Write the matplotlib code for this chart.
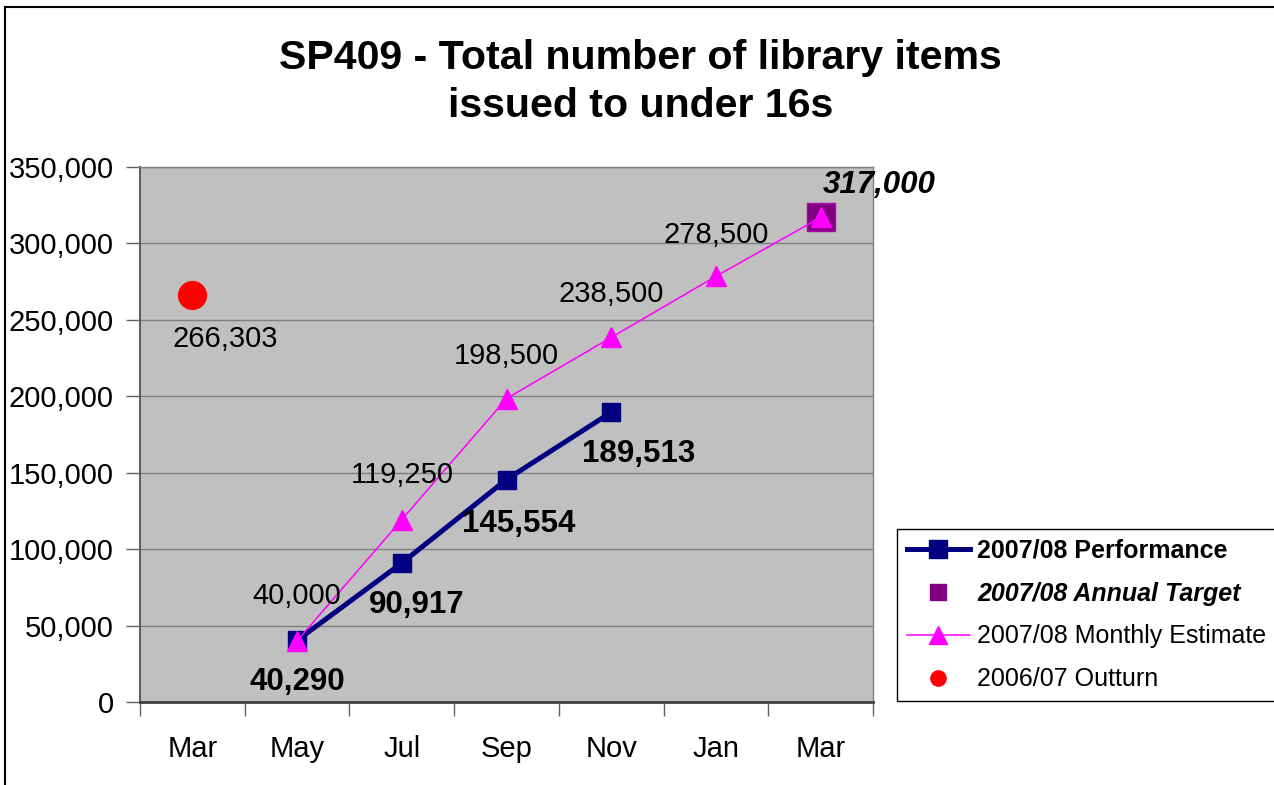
import numpy as np
from matplotlib import pyplot as plt
from matplotlib import rcParams
from matplotlib.lines import Line2D
from matplotlib.ticker import FuncFormatter

rcParams.update({"font.family": ["Liberation Sans", "DejaVu Sans"]})

months = ["Mar", "May", "Jul", "Sep", "Nov", "Jan", "Mar"]

perf_idx = [1, 2, 3, 4]
perf_vals = [40290, 90917, 145554, 189513]

est_idx = [1, 2, 3, 4, 5, 6]
est_vals = [40000, 119250, 198500, 238500, 278500, 317000]

target_idx = [6]
target_vals = [317000]

outturn_idx = [0]
outturn_vals = [266303]

# label offsets in points (hand placed, like the original)
perf_off = [(0, -30), (11, -30), (9, -32), (20, -30)]
est_off = [(0, 32), (0, 32), (0, 31), (0, 31), (0, 30)]

navy = "#000080"
magenta = "#FF00FF"
purple = "#800080"
grey_bg = "#C0C0C0"

labelSize = 21
boldSize = 22.5
fmt = lambda v: f"{int(v):,}"

fig = plt.figure(figsize=(12.74, 7.85), dpi=100)
ax = fig.add_axes([140 / 1274, 1 - 702 / 785, (873 - 140) / 1274, (702 - 167) / 785])
ax.set_facecolor(grey_bg)

ax.plot(perf_idx, perf_vals, color=navy, lw=3.6, marker="s", ms=13.5, zorder=3)
ax.plot(target_idx, target_vals, ls="none", marker="s", ms=20, color=purple,
        mec="#B000B0", mew=1, zorder=4)
ax.plot(est_idx, est_vals, color=magenta, lw=1.1, marker="^", ms=15, zorder=5)
ax.plot(outturn_idx, outturn_vals, ls="none", marker="o", ms=20, color="#FF0000", zorder=5)

for (i, v), (dx, dy) in zip(zip(perf_idx, perf_vals), perf_off):
    ax.annotate(fmt(v), (i, v), xytext=(dx, dy), textcoords="offset points",
                ha="center", va="center", fontsize=boldSize, fontweight="bold", zorder=6)
for (i, v), (dx, dy) in zip(zip(est_idx[:-1], est_vals[:-1]), est_off):
    ax.annotate(fmt(v), (i, v), xytext=(dx, dy), textcoords="offset points",
                ha="center", va="center", fontsize=labelSize, zorder=6)
ax.annotate(fmt(target_vals[0]), (target_idx[0], target_vals[0]), xytext=(42, 23),
            textcoords="offset points", ha="center", va="center", fontsize=boldSize,
            fontweight="bold", fontstyle="italic", annotation_clip=False, zorder=6)
ax.annotate(fmt(outturn_vals[0]), (outturn_idx[0], outturn_vals[0]), xytext=(24, -32),
            textcoords="offset points", ha="center", va="center", fontsize=labelSize, zorder=6)

ax.set_xlim(-0.5, len(months) - 0.5)
ax.set_ylim(0, 350000)
ax.set_yticks(np.arange(0, 350001, 50000))
ax.yaxis.set_major_formatter(FuncFormatter(lambda v, p: fmt(v)))
ax.tick_params(axis="y", length=10, width=1, color="#606060", pad=9, labelsize=labelSize)
ax.grid(axis="y", color="#808080", lw=1)
ax.set_axisbelow(True)

ax.set_xticks(np.arange(-0.5, len(months)), [""] * (len(months) + 1))
ax.set_xticks(np.arange(len(months)), months, minor=True)
ax.tick_params(axis="x", which="major", length=10, width=1, color="#606060")
ax.tick_params(axis="x", which="minor", length=0, pad=24, labelsize=labelSize)

for s in ["top", "right"]:
    ax.spines[s].set_color("#808080")
    ax.spines[s].set_linewidth(1)
ax.spines["left"].set_color("#606060")
ax.spines["left"].set_linewidth(1.5)
ax.spines["bottom"].set_color("#404040")
ax.spines["bottom"].set_linewidth(2)

fig.text(0.503, 1 - 58 / 785, "SP409 - Total number of library items", ha="center", va="center",
         fontsize=29.6, fontweight="bold")
fig.text(0.503, 1 - 106 / 785, "issued to under 16s", ha="center", va="center",
         fontsize=29.6, fontweight="bold")

handles = [
    Line2D([], [], color=navy, lw=3.6, marker="s", ms=13),
    Line2D([], [], ls="none", color=purple, marker="s", ms=11),
    Line2D([], [], color=magenta, lw=1.1, marker="^", ms=13),
    Line2D([], [], ls="none", color="#FF0000", marker="o", ms=11),
]
names = ["2007/08 Performance", "2007/08 Annual Target", "2007/08 Monthly Estimate", "2006/07 Outturn"]
leg = fig.legend(handles, names, loc="upper left", bbox_to_anchor=(897 / 1274, 1 - 529 / 785),
                 fontsize=18, frameon=True, fancybox=False, edgecolor="black", framealpha=1,
                 borderpad=0.4, labelspacing=0.75, handlelength=2.5, handletextpad=0.3,
                 borderaxespad=0)
leg.get_frame().set_linewidth(1)
leg.get_texts()[0].set_fontweight("bold")
leg.get_texts()[1].set_fontweight("bold")
leg.get_texts()[1].set_fontstyle("italic")

# outer chart border (left and top only, as in the original crop)
bx, by = 5 / 1274, 1 - 7 / 785
fig.add_artist(Line2D([bx, bx], [0, by], color="black", lw=1.5, transform=fig.transFigure))
fig.add_artist(Line2D([bx, 1], [by, by], color="black", lw=1.5, transform=fig.transFigure))

plt.savefig("out.png", dpi=100)
